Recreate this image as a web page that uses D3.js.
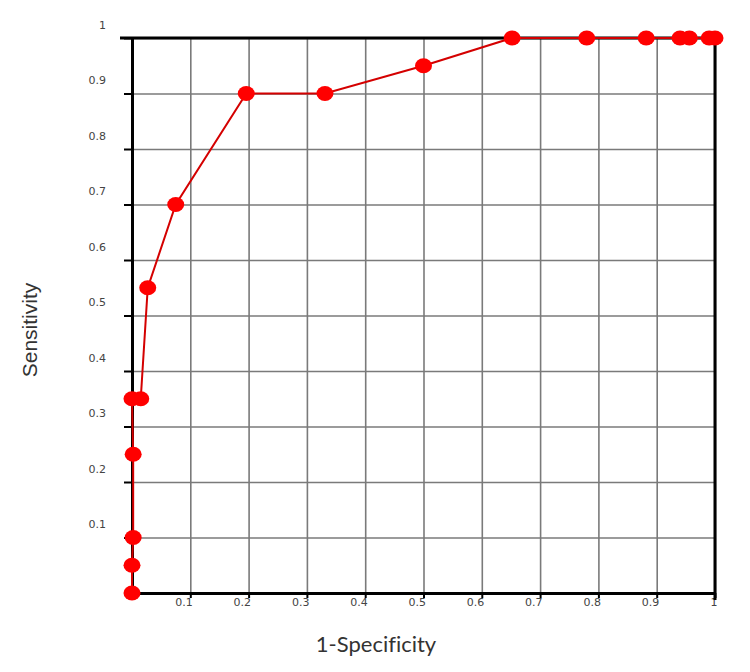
<!DOCTYPE html>
<html>
<head>
<meta charset="utf-8">
<script src="https://cdn.jsdelivr.net/npm/d3@7"></script>
<style>
  body { margin: 0; background: #fff; }
  svg { display: block; }
</style>
</head>
<body>
<div id="chart"></div>
<script>
// ROC curve points
const fpr = [0, 0, 0.002, 0.002, 0, 0.015, 0.027, 0.075, 0.196, 0.331, 0.5, 0.652, 0.78, 0.882, 0.94, 0.956, 0.99, 1];
const tpr = [0, 0.05, 0.1, 0.25, 0.35, 0.35, 0.55, 0.7, 0.9, 0.9, 0.95, 1, 1, 1, 1, 1, 1, 1];
const tickValues = [0.1, 0.2, 0.3, 0.4, 0.5, 0.6, 0.7, 0.8, 0.9, 1];

const width = 750, height = 672;
const margin = { top: 38, right: 35, bottom: 79, left: 132 };
const w = width - margin.left - margin.right;
const h = height - margin.top - margin.bottom;

const data = fpr.map((d, i) => ({ x: d, y: tpr[i] }));

const svg = d3.select('#chart').append('svg')
    .attr('width', width)
    .attr('height', height);

const plot = svg.append('g')
    .attr('transform', `translate(${margin.left},${margin.top})`);

const xScale = d3.scaleLinear().domain([0, 1]).range([0, w]);
const yScale = d3.scaleLinear().domain([0, 1]).range([h, 0]);

const fmt = d => d === 1 ? '1' : d3.format('.1f')(d);

// grid lines
const xGrid = plot.append('g')
    .attr('transform', `translate(0,${h})`)
    .call(d3.axisBottom(xScale).tickValues(tickValues).tickSize(-h).tickFormat(''));
xGrid.select('.domain').remove();
xGrid.selectAll('line').attr('stroke', '#7a7a7a').attr('stroke-width', 1.6);

const yGrid = plot.append('g')
    .call(d3.axisLeft(yScale).tickValues(tickValues).tickSize(-w).tickFormat(''));
yGrid.select('.domain').remove();
yGrid.selectAll('line').attr('stroke', '#7a7a7a').attr('stroke-width', 1.6);

// x axis with little ticks below and labels
const xAxis = plot.append('g')
    .attr('transform', `translate(0,${h})`)
    .call(d3.axisBottom(xScale).tickValues(tickValues).tickSizeInner(5).tickSizeOuter(0).tickFormat(fmt));
xAxis.select('.domain').attr('stroke', '#000').attr('stroke-width', 3);
xAxis.selectAll('line').attr('stroke', '#000').attr('stroke-width', 2);
xAxis.selectAll('text')
    .attr('text-anchor', 'end')
    .attr('x', 2)
    .attr('y', 5)
    .attr('dy', '0.71em')
    .style('font-family', '"DejaVu Sans", sans-serif')
    .style('font-size', '11px')
    .attr('fill', '#444');

// y axis with little ticks left and labels sitting above the line
const yAxis = plot.append('g')
    .call(d3.axisLeft(yScale).tickValues(tickValues).tickSizeInner(8).tickSizeOuter(0).tickFormat(fmt));
yAxis.select('.domain').attr('stroke', '#000').attr('stroke-width', 3);
yAxis.selectAll('line').attr('stroke', '#000').attr('stroke-width', 2);
yAxis.selectAll('text')
    .attr('x', -26)
    .attr('dy', '-0.9em')
    .style('font-family', '"DejaVu Sans", sans-serif')
    .style('font-size', '11px')
    .attr('fill', '#444');

// top and right borders
plot.append('line')
    .attr('x1', -12).attr('x2', w)
    .attr('y1', yScale(1)).attr('y2', yScale(1))
    .attr('stroke', '#000').attr('stroke-width', 3);
plot.append('line')
    .attr('x1', xScale(1)).attr('x2', xScale(1))
    .attr('y1', 0).attr('y2', h + 7)
    .attr('stroke', '#000').attr('stroke-width', 3);

// ROC line and points
const line = d3.line()
    .x(d => xScale(d.x))
    .y(d => yScale(d.y));

plot.append('path')
    .datum(data)
    .attr('fill', 'none')
    .attr('stroke', '#d40000')
    .attr('stroke-width', 2)
    .attr('d', line);

plot.selectAll('.pt')
    .data(data)
    .enter().append('ellipse')
    .attr('class', 'pt')
    .attr('cx', d => xScale(d.x))
    .attr('cy', d => yScale(d.y))
    .attr('rx', 8.5)
    .attr('ry', 7.5)
    .attr('fill', '#ff0000');

// axis titles
svg.append('text')
    .attr('transform', 'translate(37,330) rotate(-90)')
    .attr('text-anchor', 'middle')
    .style('font-family', '"Liberation Sans", Arial, sans-serif')
    .style('font-size', '21px')
    .attr('fill', '#333')
    .text('Sensitivity');

svg.append('text')
    .attr('x', 376)
    .attr('y', 652)
    .attr('text-anchor', 'middle')
    .style('font-family', 'Lato, sans-serif')
    .style('font-size', '22px')
    .style('font-variant-ligatures', 'none')
    .attr('fill', '#333')
    .text('1-Specificity');
</script>
</body>
</html>
